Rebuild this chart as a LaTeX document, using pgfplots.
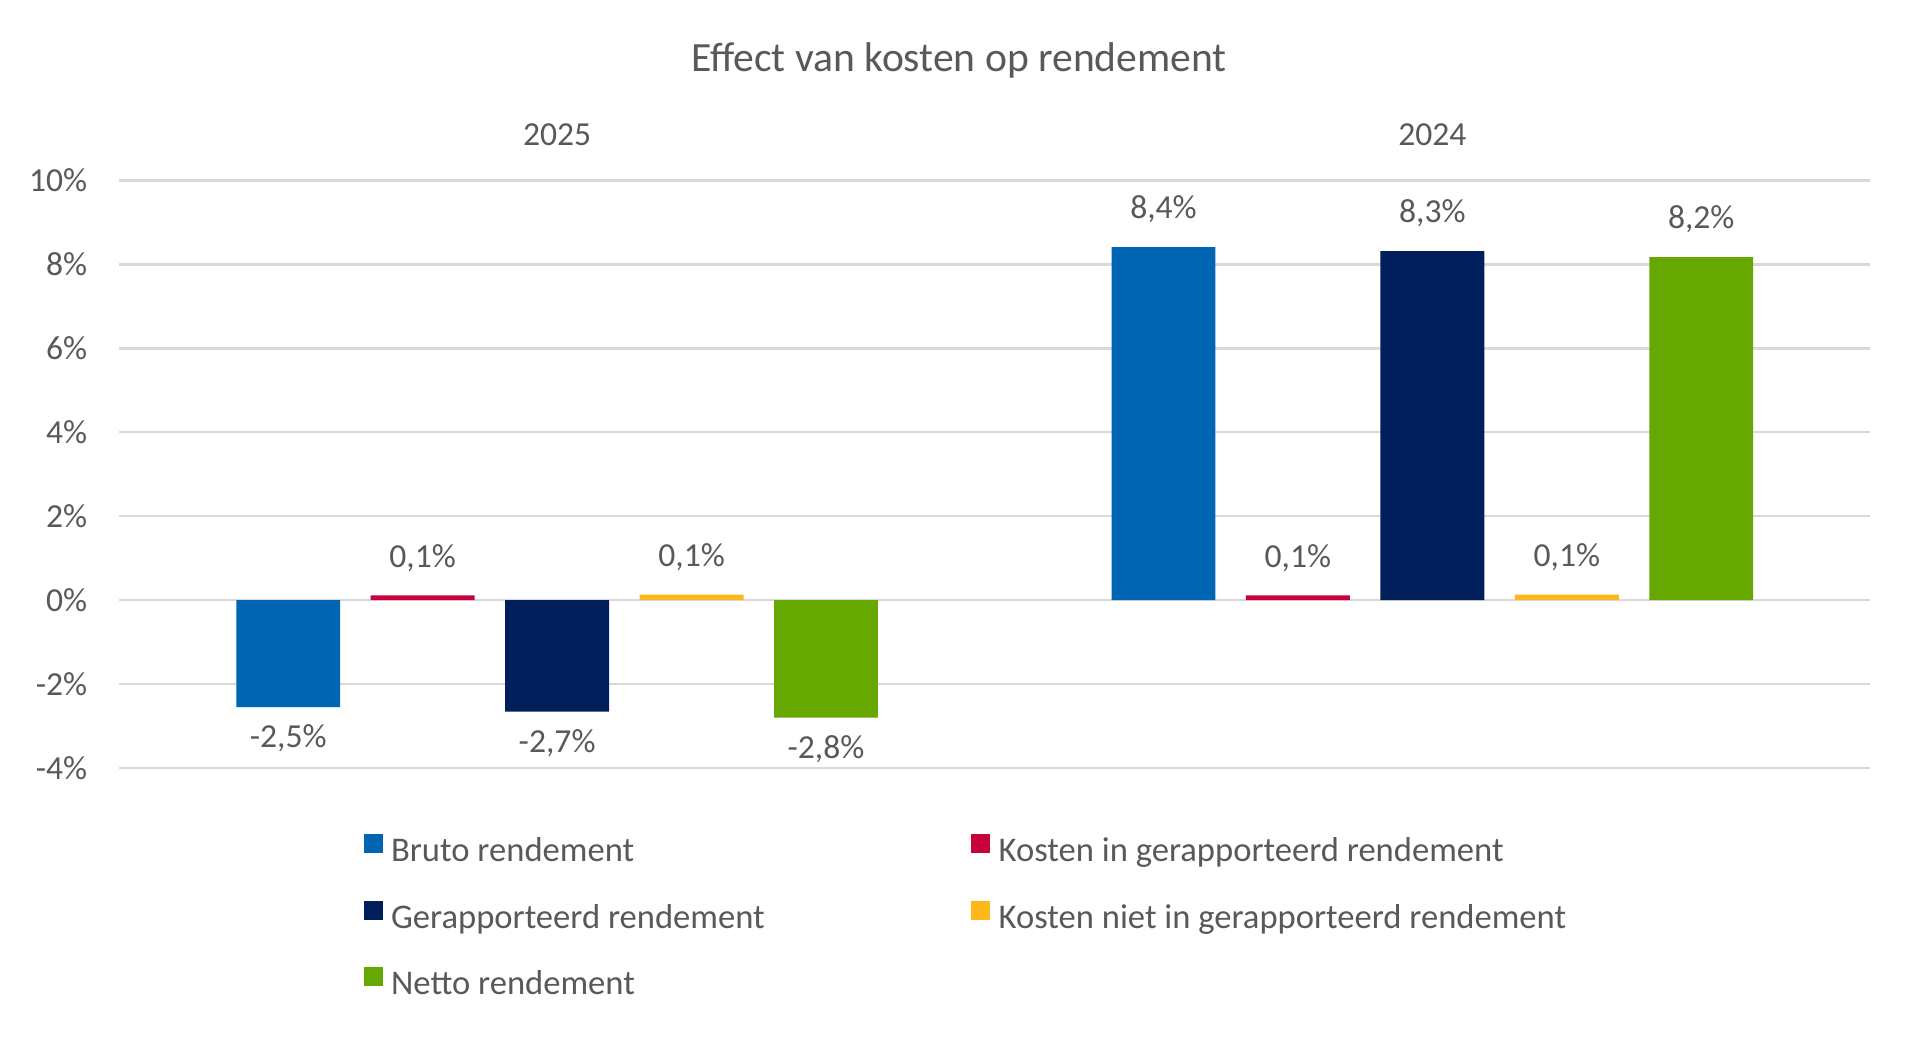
\documentclass[border=0pt]{standalone}
\usepackage{pgfplots}
\pgfplotsset{compat=1.18}
\usepackage{fontspec}
\setmainfont{Carlito}
\definecolor{cBlue}{HTML}{0066B3}
\definecolor{cRed}{HTML}{C8003C}
\definecolor{cNavy}{HTML}{001F5B}
\definecolor{cYellow}{HTML}{FFB81C}
\definecolor{cGreen}{HTML}{66A800}
\definecolor{txt}{HTML}{595959}
\definecolor{gridgray}{HTML}{D9D9D9}
\newcommand{\lfont}{\fontsize{16.8}{20}\selectfont}
\newcommand{\legfont}{\fontsize{17.3}{20}\selectfont}
\begin{document}
\begin{tikzpicture}
\useasboundingbox (-59.75pt,-135.5pt) rectangle (899.75pt,384pt);
\fill[white] (-59.75pt,-135.5pt) rectangle (899.75pt,384pt);
\begin{axis}[
  scale only axis,
  width=875.25pt, height=293.85pt,
  xmin=-0.5, xmax=1.5, ymin=-4, ymax=10,
  ybar, bar width=0.1188,
  axis line style={draw=none},
  major tick length=0pt,
  ytick={-4,-2,0,2,4,6,8,10},
  yticklabels={-4\%,-2\%,0\%,2\%,4\%,6\%,8\%,10\%},
  yticklabel style={font=\lfont, color=txt, anchor=east, inner sep=0pt, xshift=-16pt},
  xtick={0,1}, xticklabels={2025,2024},
  xticklabel pos=upper,
  xticklabel style={font=\lfont, color=txt, anchor=base, inner sep=0pt, yshift=17.3pt},
  ymajorgrids, xmajorgrids=false,
  grid style={draw=gridgray, line width=1.3pt},
  title={Effect van kosten op rendement},
  every axis title shift=0pt,
  title style={at={(0.4796,1.1843)}, anchor=base, yshift=0pt, inner sep=0pt, font=\fontsize{20.8}{24}\selectfont, color=txt},
  point meta=explicit symbolic,
  nodes near coords={\pgfplotspointmeta\%},
  visualization depends on=rawy \as \rawy,
  every node near coord/.append style={font=\lfont, color=txt, anchor=base, inner sep=0pt, yshift={ifthenelse(\rawy>0,14.2,-20.2)}},
  legend columns=2,
  legend cell align=left,
  legend style={at={(0.13939,-0.11281)}, anchor=north west, draw=none, fill=none, inner sep=0pt, outer sep=0pt,
    font=\legfont, text=txt, row sep=15.5pt,
    nodes={inner sep=0pt, text height=12.5pt, text depth=4pt},
    /tikz/every odd column/.append style={column sep=4.3pt},
    /tikz/every even column/.append style={column sep=0pt}},
  legend image code/.code={\fill[#1] (0pt,0pt) rectangle (9.5pt,9.5pt);},
]
\addplot[fill=cBlue, draw=none, bar shift=-0.3072] table[x=x, y=y, meta=lbl] {
x y lbl
0 -2.55 -2,5
1 8.41 8,4
};
\addlegendentry{\makebox[290pt][l]{Bruto rendement}}
\addplot[fill=cRed, draw=none, bar shift=-0.1536] table[x=x, y=y, meta=lbl] {
x y lbl
0 0.11 0,1
1 0.11 0,1
};
\addlegendentry{Kosten in gerapporteerd rendement}
\addplot[fill=cNavy, draw=none, bar shift=0] table[x=x, y=y, meta=lbl] {
x y lbl
0 -2.66 -2,7
1 8.31 8,3
};
\addlegendentry{\makebox[290pt][l]{Gerapporteerd rendement}}
\addplot[fill=cYellow, draw=none, bar shift=0.1536] table[x=x, y=y, meta=lbl] {
x y lbl
0 0.13 0,1
1 0.13 0,1
};
\addlegendentry{Kosten niet in gerapporteerd rendement}
\addplot[fill=cGreen, draw=none, bar shift=0.3072] table[x=x, y=y, meta=lbl] {
x y lbl
0 -2.80 -2,8
1 8.17 8,2
};
\addlegendentry{\makebox[290pt][l]{Netto rendement}}
\end{axis}
\end{tikzpicture}
\end{document}
